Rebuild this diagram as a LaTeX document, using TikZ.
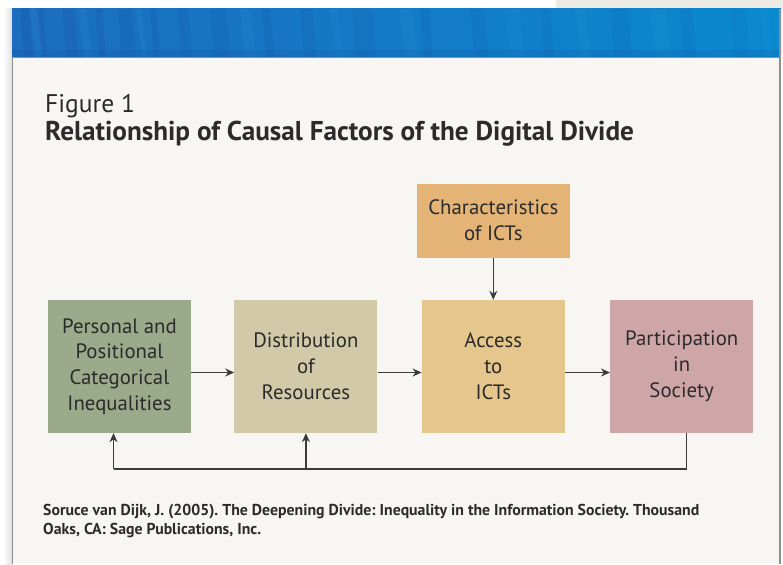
\documentclass[tikz,border=0pt]{standalone}
\usepackage{fontspec}
\setmainfont{PT Sans}
\usetikzlibrary{arrows.meta,positioning}
\definecolor{Ink}{HTML}{2B2B2B}
\definecolor{Wire}{HTML}{3A3A3A}
\definecolor{Paper}{HTML}{F7F6F2}
\definecolor{Frame}{HTML}{8E8E8E}
\definecolor{Haze}{HTML}{ECECE4}
\definecolor{BlueL}{HTML}{1C6CBF}
\definecolor{BlueR}{HTML}{0A89CF}
\definecolor{BlueDeep}{HTML}{1650A6}
\definecolor{BlueSky}{HTML}{35A2DE}
\definecolor{Sage}{HTML}{9BAA8B}
\definecolor{Sand}{HTML}{D2C9A9}
\definecolor{Wheat}{HTML}{E5C68D}
\definecolor{Apricot}{HTML}{E4B477}
\definecolor{Rose}{HTML}{CFA6A8}
\tikzset{
  box/.style={minimum width=143pt,minimum height=133pt,inner sep=2pt,align=center,
    text=Ink,font=\fontsize{20.8}{25.8}\selectfont},
  link/.style={Wire,line width=1.4pt,-{Stealth[length=9pt,width=8pt]}},
  wire/.style={Wire,line width=1.4pt},
}
\frenchspacing

\begin{document}
\begin{tikzpicture}[x=1pt,y=-1pt]
  \useasboundingbox (0,0) rectangle (783,564);
  \fill[white] (0,0) rectangle (783,564);
  \fill[Haze] (556,0) rectangle (783,9);
  \shade[left color=white,right color=black!12] (3,9) rectangle (12,564);
  \fill[Paper] (12,58) rectangle (781,564);
  \shade[left color=BlueL,right color=BlueR] (12,9) rectangle (781,57);
  \foreach \x/\w/\o in {20/9/0.25,38/5/0.2,62/12/0.18,95/7/0.22,118/14/0.15,150/6/0.2,
    178/10/0.16,210/16/0.14,262/8/0.2,300/12/0.16,352/20/0.12,420/9/0.14,470/14/0.12,
    540/10/0.12,610/18/0.1,680/12/0.1,730/16/0.08}
    \fill[BlueDeep,opacity=\o] (\x,9) -- (\x+\w,9) -- (\x+\w+4,57) -- (\x+4,57) -- cycle;
  \foreach \x/\w/\o in {30/6/0.15,78/8/0.12,136/5/0.14,240/10/0.12,330/8/0.1,
    400/12/0.12,505/14/0.1,575/10/0.12,650/16/0.1,760/8/0.1}
    \fill[BlueSky,opacity=\o] (\x,9) -- (\x+\w,9) -- (\x+\w+6,57) -- (\x+6,57) -- cycle;
  \fill[BlueDeep,opacity=0.18] (12,50) rectangle (781,57);
  \draw[Frame,line width=1.5pt] (12,57.5) -- (781,57.5);
  \draw[Frame,line width=1.5pt] (12.5,57) -- (12.5,564);
  \draw[Frame,line width=2pt] (780,9) -- (780,564);

  \node[anchor=base west,inner sep=0,text=Ink,font=\fontsize{25.5}{30}\selectfont] (fignum) at (45,113) {Figure 1};
  \node[anchor=base west,inner sep=0,text=Ink,font=\bfseries\fontsize{27.2}{30}\selectfont] (title) at (45,141)
    {Relationship of Causal Factors of the Digital Divide};

  \node[box,fill=Sage] (pers) at (119.5,366.5) {Personal and\\Positional\\Categorical\\Inequalities};
  \node[box,fill=Sand,right=43pt of pers] (dist) {Distribution\\of\\Resources};
  \node[box,fill=Wheat,right=44pt of dist] (access) {Access\\to\\ICTs};
  \node[box,fill=Rose,right=45pt of access] (part) {Participation\\in\\Society};
  \node[box,fill=Apricot,minimum width=153pt,minimum height=74pt,above=42pt of access] (chars) {Characteristics\\of ICTs};

  \draw[link] ([yshift=-6pt]pers.east) -- ([yshift=-6pt]dist.west);
  \draw[link] ([yshift=-6pt]dist.east) -- ([yshift=-6pt]access.west);
  \draw[link] ([yshift=-6pt]access.east) -- ([yshift=-6pt]part.west);
  \draw[link] (chars) -- (access);

  \coordinate (bus) at (0,469);
  \draw[wire] ([xshift=4.5pt]part.south) -- ([xshift=4.5pt]part.south |- bus) -- ([xshift=-6pt]pers.south |- bus);
  \draw[link] ([xshift=-6pt]pers.south |- bus) -- ([xshift=-6pt]pers.south);
  \draw[link] (dist.south |- bus) -- (dist.south);

  \node[anchor=north west,inner sep=0,align=left,text=Ink,font=\bfseries\fontsize{15.8}{19}\selectfont] (source) at (43,504)
    {Soruce van Dijk, J. (2005). The Deepening Divide: Inequality in the Information Society. Thousand\\
     Oaks, CA: Sage Publications, Inc.};
\end{tikzpicture}
\end{document}
